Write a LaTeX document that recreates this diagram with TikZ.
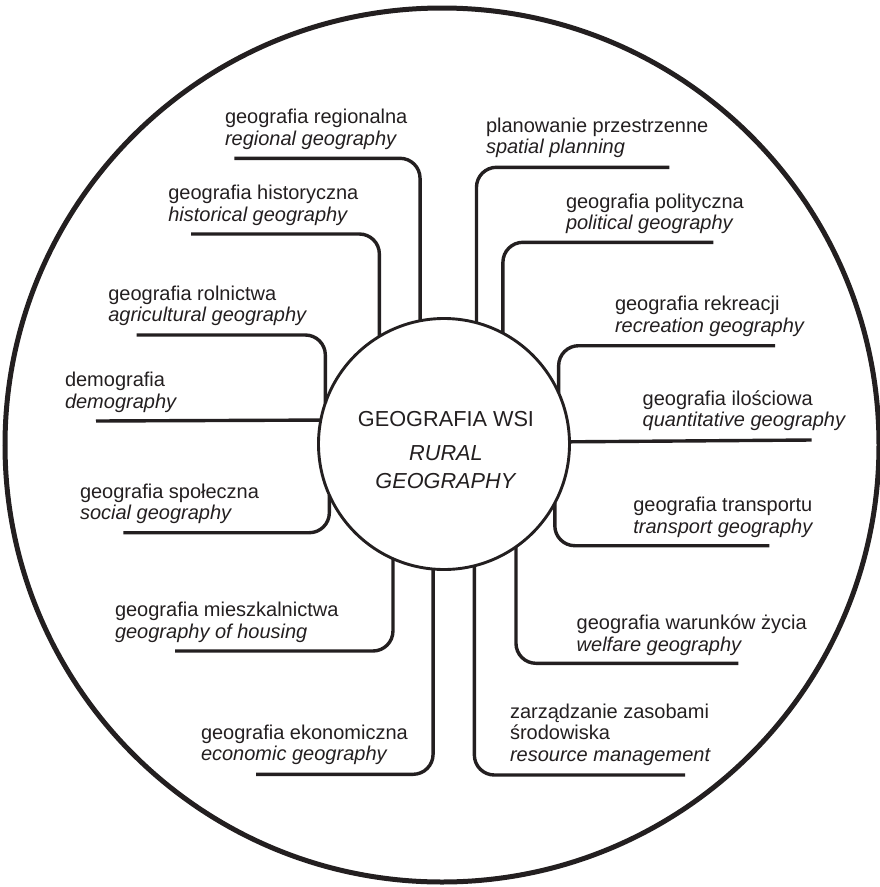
\documentclass[tikz,border=0pt]{standalone}
\usepackage{fontspec}
\setmainfont{Liberation Sans}[Ligatures=NoCommon]
\definecolor{ink}{HTML}{231F20}

\begin{document}
\begin{tikzpicture}[x=1pt, y=-1pt,
        lbl/.style={anchor=base west, align=left, inner sep=0pt, outer sep=0pt, text=ink, font=\fontsize{20}{21.5}\selectfont},
        link/.style={draw=ink, line width=3.4pt, rounded corners=20pt}]
            \useasboundingbox (0,0) rectangle (880,887);
            \draw[ink, line width=5pt] (442,445) circle [radius=437pt];
            \node[circle, draw=ink, line width=2.9pt, minimum size=251pt, inner sep=0pt, outer sep=0pt] (core) at (444,444) {};
            \node[anchor=base, align=center, inner sep=0pt, text=ink, font=\fontsize{21.7}{27.6}\selectfont] (title) at (446,488.3) {GEOGRAFIA WSI\\[6.4pt]\textit{RURAL}\\\textit{GEOGRAPHY}};

            \node[lbl] (regional) at (225,145.3) {geografia regionalna\\\textit{regional geography}};
            \node[lbl] (historical) at (168.3,221.3) {geografia historyczna\\\textit{historical geography}};
            \node[lbl] (agricultural) at (108.3,321.5) {geografia rolnictwa\\\textit{agricultural geography}};
            \node[lbl] (demography) at (65,408.2) {demografia\\\textit{demography}};
            \node[lbl] (social) at (80,519.5) {geografia społeczna\\\textit{social geography}};
            \node[lbl] (housing) at (115,638.2) {geografia mieszkalnictwa\\\textit{geography of housing}};
            \node[lbl] (economic) at (201,760.5) {geografia ekonomiczna\\\textit{economic geography}};
            \node[lbl] (resource) at (510,761) {zarządzanie zasobami\\środowiska\\\textit{resource management}};
            \node[lbl] (welfare) at (576.7,651) {geografia warunków życia\\\textit{welfare geography}};
            \node[lbl] (transport) at (633.3,533) {geografia transportu\\\textit{transport geography}};
            \node[lbl] (quantitative) at (642.7,426.8) {geografia ilościowa\\\textit{quantitative geography}};
            \node[lbl] (recreation) at (615,332.2) {geografia rekreacji\\\textit{recreation geography}};
            \node[lbl] (political) at (566,229.6) {geografia polityczna\\\textit{political geography}};
            \node[lbl] (spatial) at (486,153.8) {planowanie przestrzenne\\\textit{spatial planning}};

            \coordinate (regional-end) at (234.3,158.3);
            \coordinate (historical-end) at (191,234);
            \coordinate (agricultural-end) at (136.7,335);
            \coordinate (demography-end) at (96,421);
            \coordinate (social-end) at (123.3,532.7);
            \coordinate (housing-end) at (175,651);
            \coordinate (economic-end) at (256,774.3);
            \coordinate (resource-end) at (685,775);
            \coordinate (welfare-end) at (738.3,663.3);
            \coordinate (transport-end) at (769.3,545.7);
            \coordinate (quantitative-end) at (811.7,440);
            \coordinate (recreation-end) at (775,345.7);
            \coordinate (political-end) at (713.3,242.3);
            \coordinate (spatial-end) at (669.3,167.3);

            \draw[link] (regional-end) -| (core.101.35);
            \draw[link] (historical-end) -| (core.121.19);
            \draw[link] (agricultural-end) -| (core.161.5);
            \draw[link] (demography-end) -- (core.169.44);
            \draw[link] (social-end) -| (core.204.7);
            \draw[link] (housing-end) -| (core.246.52);
            \draw[link] (economic-end) -| (core.265.11);
            \draw[link] (resource-end) -| (core.284.63);
            \draw[link] (welfare-end) -| (core.305.74);
            \draw[link] (transport-end) -| (core.332.67);
            \draw[link] (quantitative-end) -- (core.1.83);
            \draw[link] (recreation-end) -| (core.24.17);
            \draw[link] (political-end) -| (core.62.63);
            \draw[link] (spatial-end) -| (core.75.37);
        \end{tikzpicture}
\end{document}
